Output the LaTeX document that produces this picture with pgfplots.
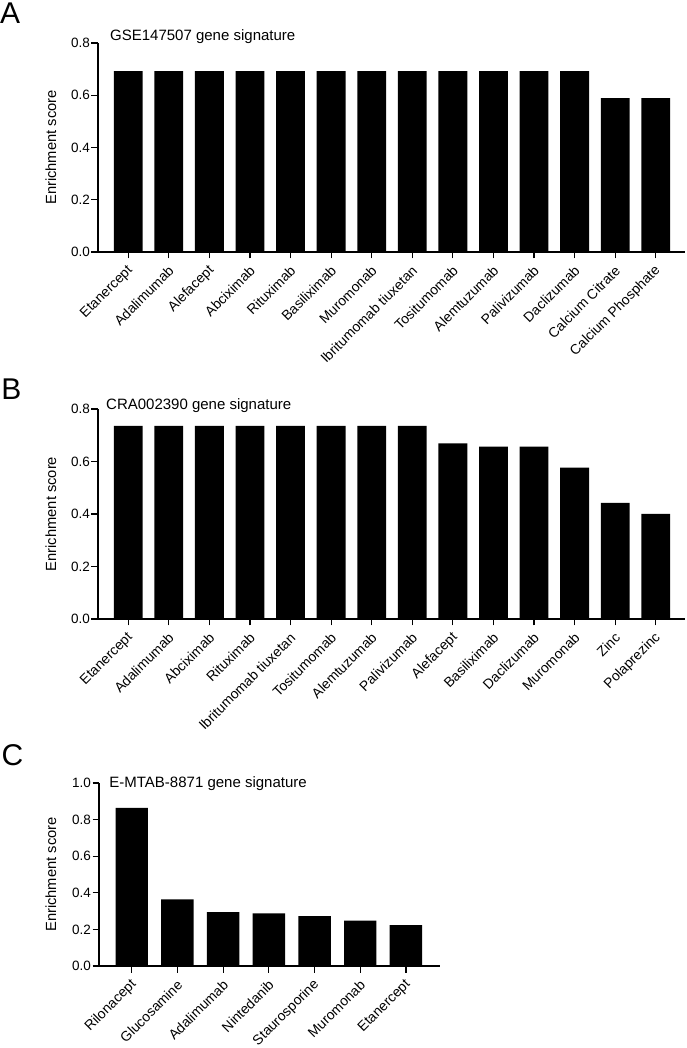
\documentclass[border=0pt]{standalone}
\usepackage{fontspec}
\setmainfont{Liberation Sans}
\usepackage{pgfplots}
\pgfplotsset{compat=1.18}
\tikzset{letter/.style={anchor=base west, inner sep=0pt, font=\fontsize{30}{30}\selectfont}}
\pgfplotsset{
 panel/.style={
  scale only axis,
  anchor=south west,
  axis x line*=bottom, axis y line*=left,
  axis line style={line width=1.2pt, -},
  every tick/.style={black, line width=1.2pt},
  tick align=outside,
  major tick length=6.5pt,
  ymin=0,
  xtick=data,
  x tick label style={xshift=3.2pt, yshift=-9.2pt, rotate=45, anchor=east, font=\fontsize{13.9}{14}\selectfont, inner sep=1pt},
  y tick label style={font=\fontsize{13.5}{14}\selectfont, inner sep=1.5pt},
  yticklabel style={/pgf/number format/.cd, fixed, fixed zerofill, precision=1, assume math mode=true},
  ylabel={Enrichment score},
  ylabel style={font=\fontsize{14.7}{15}\selectfont, anchor=center},
  title style={anchor=base west, font=\fontsize{15}{16}\selectfont, inner sep=0pt},
  clip=false,
  ybar, bar width=0.71,
 },
}
\begin{document}
\begin{tikzpicture}
\useasboundingbox (0,0) rectangle (686pt,1048pt);
% Panel A
\begin{axis}[panel, at={(98pt,796pt)}, width=587pt, height=209pt,
  xmin=-0.745, xmax=13.72, ymax=0.8, ytick={0,0.2,0.4,0.6,0.8},
  xticklabels={Etanercept,Adalimumab,Alefacept,Abciximab,Rituximab,Basiliximab,Muromonab,Ibritumomab tiuxetan,Tositumomab,Alemtuzumab,Palivizumab,Daclizumab,Calcium Citrate,Calcium Phosphate},
  title={GSE147507 gene signature},
  title style={at={(axis description cs:0.0204,0.982)}},
  ylabel style={at={(axis description cs:-0.0801,0.5)}}]
\addplot[fill=black, draw=none] coordinates {(0,0.692) (1,0.692) (2,0.692) (3,0.692) (4,0.692) (5,0.692) (6,0.692) (7,0.692) (8,0.692) (9,0.692) (10,0.692) (11,0.692) (12,0.589) (13,0.589)};
\node[letter] at (axis description cs:-0.167,1.094) {A};
\end{axis}
% Panel B
\begin{axis}[panel, at={(98pt,429pt)}, width=587pt, height=210pt,
  xmin=-0.745, xmax=13.72, ymax=0.8, ytick={0,0.2,0.4,0.6,0.8},
  xticklabels={Etanercept,Adalimumab,Abciximab,Rituximab,Ibritumomab tiuxetan,Tositumomab,Alemtuzumab,Palivizumab,Alefacept,Basiliximab,Daclizumab,Muromonab,Zinc,Polaprezinc},
  title={CRA002390 gene signature},
  title style={at={(axis description cs:0.0136,0.971)}},
  ylabel style={at={(axis description cs:-0.0801,0.5)}}]
\addplot[fill=black, draw=none] coordinates {(0,0.736) (1,0.736) (2,0.736) (3,0.736) (4,0.736) (5,0.736) (6,0.736) (7,0.736) (8,0.669) (9,0.657) (10,0.657) (11,0.577) (12,0.442) (13,0.400)};
\node[letter] at (axis description cs:-0.165,1.043) {B};
\end{axis}
% Panel C
\begin{axis}[panel, at={(99pt,82pt)}, width=341pt, height=183pt,
  xmin=-0.716, xmax=6.745, ymax=1.0, ytick={0,0.2,0.4,0.6,0.8,1.0},
  xticklabels={Rilonacept,Glucosamine,Adalimumab,Nintedanib,Staurosporine,Muromonab,Etanercept},
  title={E-MTAB-8871 gene signature},
  title style={at={(axis description cs:0.030,0.944)}},
  ylabel style={at={(axis description cs:-0.1408,0.5)}}]
\addplot[fill=black, draw=none] coordinates {(0,0.864) (1,0.364) (2,0.295) (3,0.288) (4,0.272) (5,0.248) (6,0.223)};
\node[letter] at (axis description cs:-0.286,1.093) {C};
\end{axis}
\end{tikzpicture}
\end{document}
